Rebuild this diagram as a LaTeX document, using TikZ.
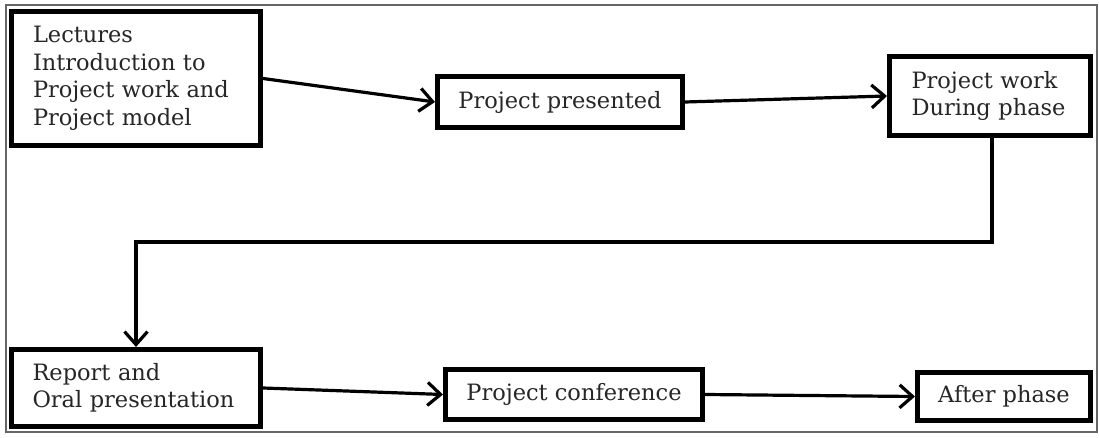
\documentclass[tikz,border=0pt]{standalone}
\usepackage{fontspec}
\setmainfont{DejaVu Serif}
\usetikzlibrary{arrows.meta}
\begin{document}
\begin{tikzpicture}[x=1pt,y=-1pt,
  box/.style={draw=black,line width=5pt,fill=white,inner ysep=2pt,font=\fontsize{22.5}{27.5}\selectfont,text=black!85},
  tip/.style={-{Straight Barb[length=13pt,width=23pt,line width=3.2pt]}},
  conn/.style={line width=3.2pt,tip}]
\useasboundingbox (0,0) rectangle (1099,438);
\draw[gray!80!black,line width=1.4pt] (6,5) rectangle (1097,432);
\node[box,minimum width=249pt,minimum height=134pt,text width=206pt,inner xsep=21pt,align=left] (b1) at (136,78.5) {Lectures\\Introduction to\\Project work and\\Project model};
\node[box,minimum width=245pt,minimum height=51pt] (b2) at (560,102) {Project presented};
\node[box,minimum width=201pt,minimum height=79pt,text width=157pt,inner xsep=22pt,align=left] (b3) at (990,96) {Project work\\During phase};
\node[box,minimum width=249pt,minimum height=77pt,text width=207pt,inner xsep=21pt,align=left] (b4) at (136,388) {Report and\\Oral presentation};
\node[box,minimum width=257pt,minimum height=50pt] (b5) at (574,394.5) {Project conference};
\node[box,minimum width=173pt,minimum height=48pt] (b6) at (1004,396.5) {After phase};
\coordinate (t1) at (992,242);
\coordinate (t2) at (136,242);
\draw[conn] (b1.east) -- (b2.west);
\draw[conn] (b2.east) -- (b3.west);
\draw[conn] (b3.south -| t1) -- (t1) -- (t2) -- (b4.north);
\draw[conn] (b4.east) -- (b5.west);
\draw[conn] (b5.east) -- (b6.west);
\end{tikzpicture}
\end{document}
